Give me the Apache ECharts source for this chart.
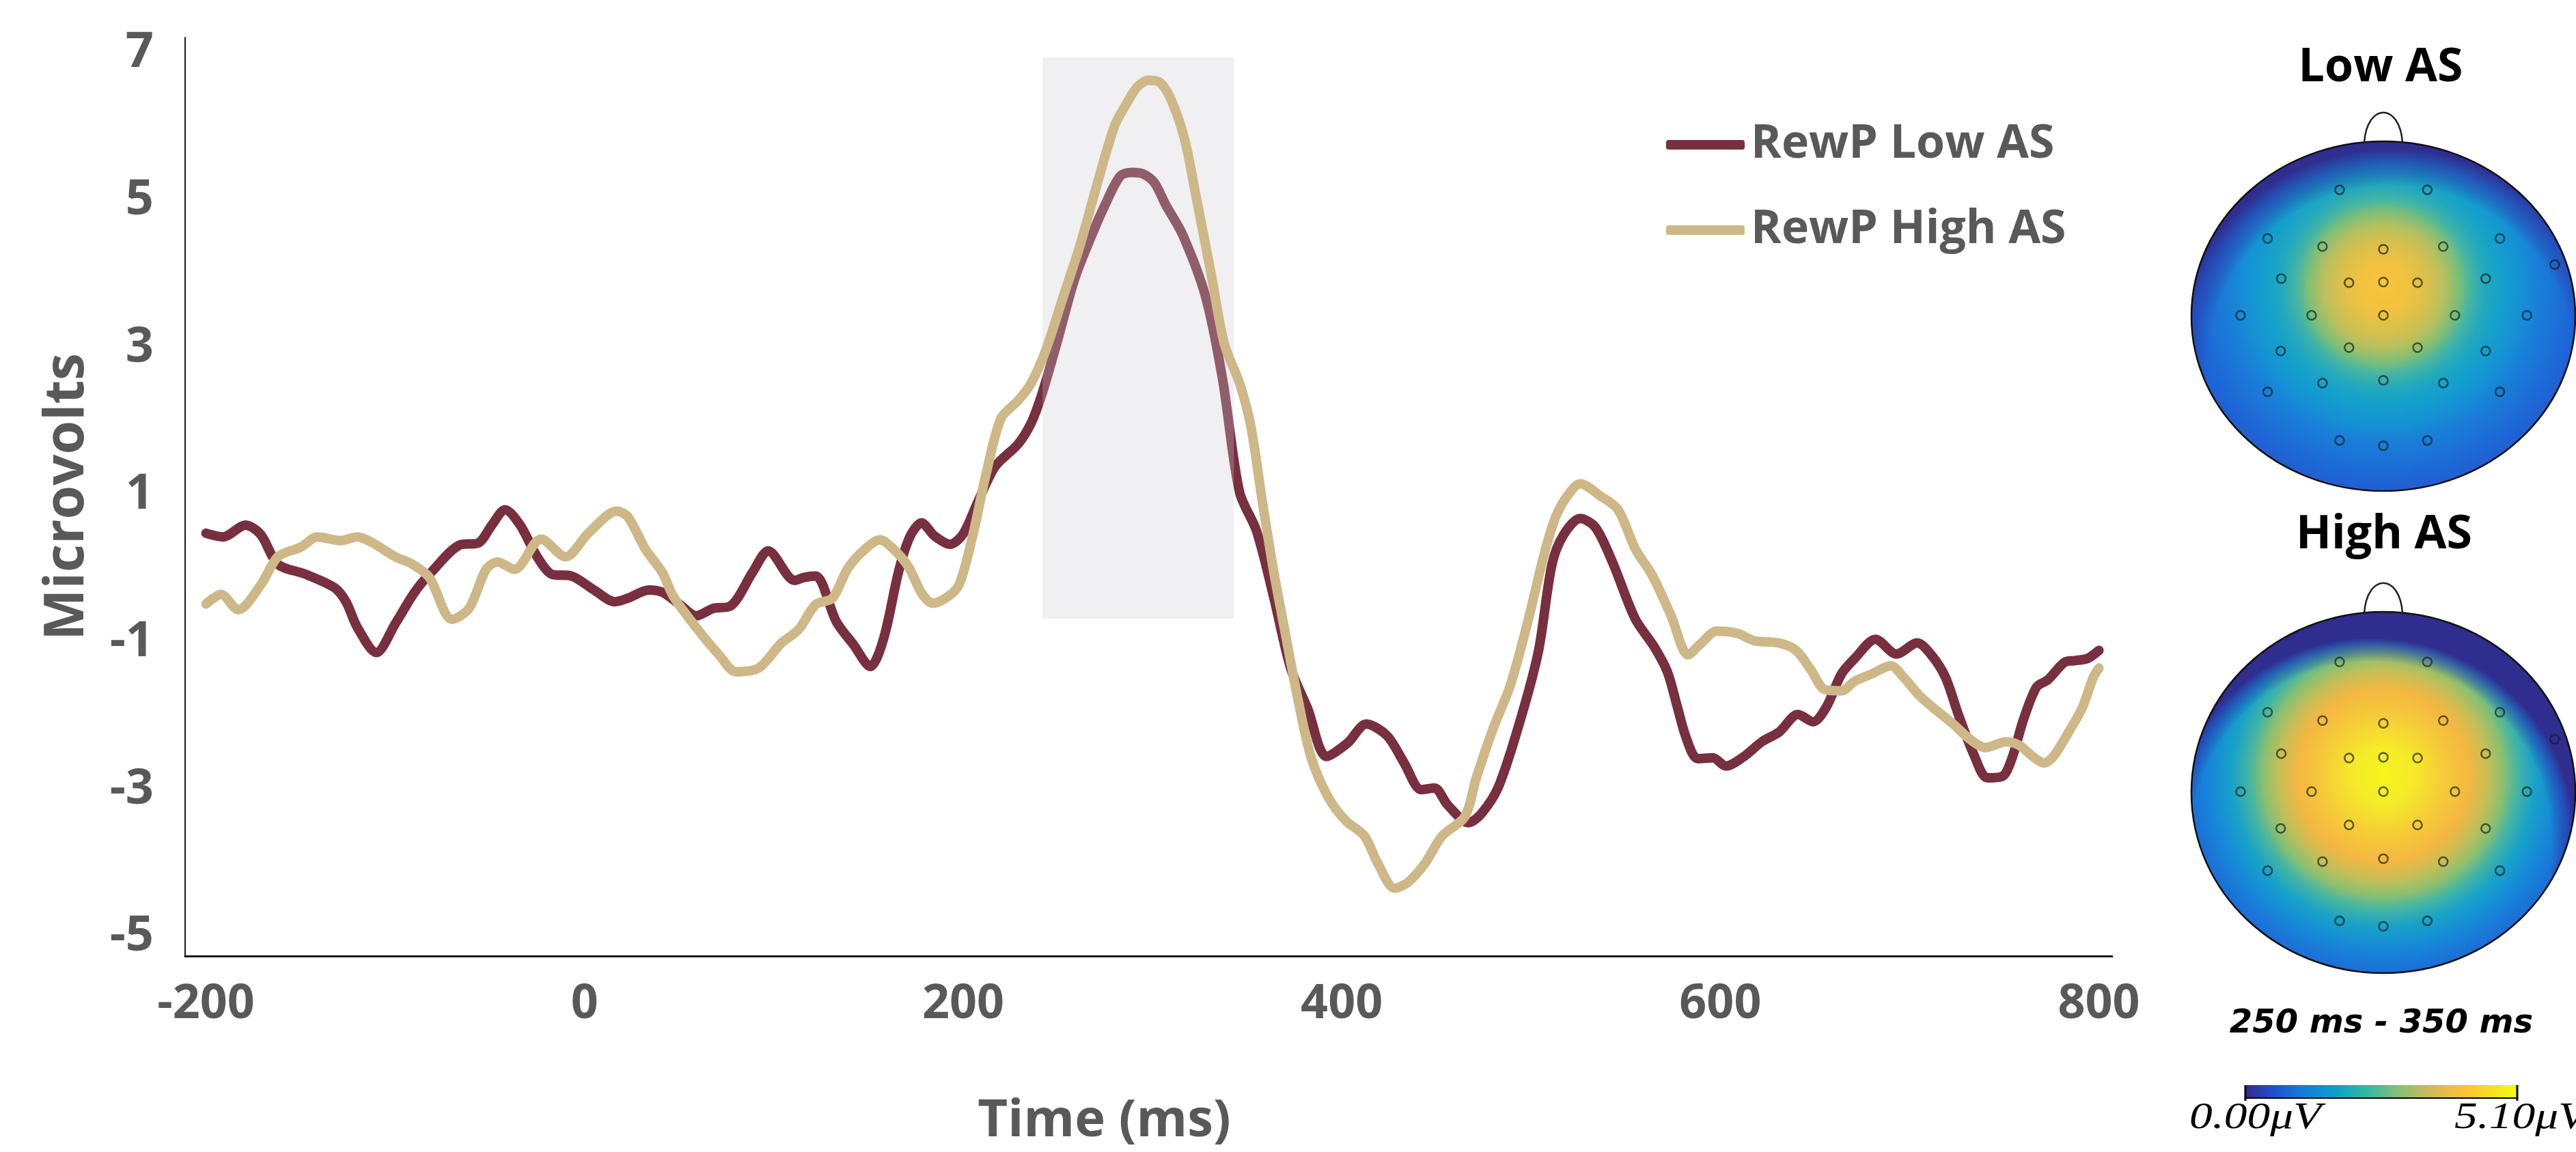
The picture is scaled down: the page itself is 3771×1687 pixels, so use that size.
<!DOCTYPE html>
<html lang="en">
<head>
    <meta charset="UTF-8">
    <title>RewP</title>
    <script src="https://cdn.jsdelivr.net/npm/echarts@6/dist/echarts.min.js"></script>
    <style>
        body { margin: 0; background: #fff; }
    </style>
</head>
<body>
<div id="chart" style="width: 3771px;height:1687px;"></div>
<script>
    // waveform values (ms, microvolts)
    let lowTime = [-200, -191, -179, -171, -162, -147, -132, -126, -120, -110, -100, -90, -81, -66, -56, -49, -42, -34, -25, -17, -7, 5, 16, 23, 34, 41, 50, 59, 68, 77, 89, 97, 111, 116, 122, 133, 142, 151, 158, 166, 172, 178, 185, 193, 200, 208, 217, 229, 236, 242, 250, 259, 268, 275, 283, 289, 295, 301, 307, 316, 328, 337, 346, 355, 364, 373, 382, 392, 403, 413, 424, 433, 442, 449, 456, 467, 474, 483, 495, 504, 511, 517, 526, 534, 543, 555, 565, 572, 577, 582, 588, 596, 603, 612, 622, 631, 641, 649, 656, 664, 671, 682, 693, 704, 712, 719, 726, 734, 741, 749, 754, 760, 767, 773, 782, 787, 794, 800];
    let lowValue = [0.48, 0.43, 0.59, 0.46, 0.06, -0.08, -0.26, -0.45, -0.80, -1.14, -0.75, -0.33, -0.05, 0.32, 0.35, 0.59, 0.80, 0.59, 0.16, -0.08, -0.10, -0.29, -0.45, -0.40, -0.29, -0.32, -0.48, -0.64, -0.54, -0.51, -0.04, 0.24, -0.16, -0.12, -0.10, -0.72, -1.03, -1.33, -0.95, -0.03, 0.44, 0.62, 0.44, 0.33, 0.47, 0.92, 1.39, 1.69, 1.98, 2.40, 3.11, 3.94, 4.53, 4.94, 5.33, 5.38, 5.36, 5.24, 4.94, 4.53, 3.70, 2.58, 1.04, 0.51, -0.38, -1.35, -1.90, -2.55, -2.37, -2.11, -2.27, -2.64, -3.00, -2.98, -3.21, -3.45, -3.32, -2.95, -2.00, -1.11, 0.05, 0.45, 0.68, 0.56, 0.09, -0.68, -1.06, -1.40, -1.85, -2.30, -2.58, -2.57, -2.68, -2.56, -2.35, -2.22, -1.98, -2.08, -1.88, -1.43, -1.22, -0.96, -1.16, -1.01, -1.19, -1.48, -2.00, -2.53, -2.84, -2.82, -2.58, -2.06, -1.61, -1.51, -1.27, -1.25, -1.22, -1.11];

    let highTime = [-200, -192, -183, -171, -162, -150, -141, -129, -120, -112, -100, -91, -82, -70, -61, -52, -46, -37, -23, -10, 2, 17, 23, 32, 41, 47, 59, 71, 80, 92, 104, 113, 122, 131, 139, 148, 156, 163, 171, 178, 184, 192, 198, 205, 212, 220, 229, 236, 244, 253, 262, 271, 280, 286, 292, 298, 304, 310, 317, 323, 331, 338, 346, 352, 358, 364, 370, 377, 384, 393, 402, 412, 419, 428, 435, 444, 453, 465, 471, 480, 489, 498, 507, 513, 519, 526, 537, 546, 555, 564, 574, 583, 590, 598, 609, 618, 631, 640, 648, 655, 664, 671, 680, 690, 697, 705, 712, 723, 732, 740, 751, 758, 765, 771, 776, 784, 791, 797, 800];
    let highValue = [-0.48, -0.35, -0.56, -0.22, 0.16, 0.29, 0.43, 0.38, 0.43, 0.35, 0.16, 0.06, -0.12, -0.69, -0.54, -0.01, 0.09, -0.01, 0.40, 0.16, 0.48, 0.78, 0.70, 0.27, -0.05, -0.38, -0.80, -1.17, -1.40, -1.35, -1.01, -0.83, -0.49, -0.40, 0.00, 0.26, 0.39, 0.27, 0.03, -0.33, -0.47, -0.38, -0.21, 0.44, 1.27, 2.04, 2.28, 2.52, 2.99, 3.70, 4.41, 5.24, 6.01, 6.30, 6.54, 6.63, 6.60, 6.36, 5.83, 5.06, 4.00, 3.05, 2.52, 1.93, 0.92, -0.03, -0.85, -1.79, -2.58, -3.11, -3.42, -3.63, -4.00, -4.34, -4.26, -4.00, -3.63, -3.37, -2.85, -2.17, -1.59, -0.75, 0.20, 0.70, 0.98, 1.15, 0.98, 0.80, 0.27, -0.09, -0.64, -1.17, -1.01, -0.85, -0.88, -0.98, -1.01, -1.11, -1.38, -1.64, -1.66, -1.53, -1.43, -1.32, -1.48, -1.72, -1.88, -2.11, -2.32, -2.43, -2.35, -2.40, -2.55, -2.64, -2.55, -2.22, -1.90, -1.48, -1.35];

    let seriesNames = ['RewP Low AS', 'RewP High AS'];
    let xTicks = [-200, 0, 200, 400, 600, 800];
    let yTicks = [-5, -3, -1, 1, 3, 5, 7];
    let windowMs = [242, 343];
    let windowUv = [-0.68, 6.94];

    // electrode layout, head-normalised (-1..1), same montage for both maps
    let electrodeX = [-0.228, 0.229, -0.603, -0.317, 0, 0.312, 0.607, 0.893, -0.532, -0.179, 0, 0.178, 0.533, -0.744, -0.374, 0, 0.373, 0.748, -0.535, -0.179, 0.178, 0.533, -0.603, -0.317, 0, 0.312, 0.607, -0.228, 0, 0.229];
    let electrodeY = [0.723, 0.723, 0.444, 0.398, 0.383, 0.398, 0.444, 0.295, 0.215, 0.191, 0.195, 0.191, 0.215, 0.005, 0.005, 0.005, 0.005, 0.005, -0.199, -0.180, -0.180, -0.199, -0.433, -0.383, -0.367, -0.383, -0.433, -0.711, -0.741, -0.711];
    let mapTitles = ['Low AS', 'High AS'];
    let mapWindow = '250 ms - 350 ms';
    let scaleLabels = ['0.00\u03bcV', '5.10\u03bcV'];

    function zip(a, b) {
        let out = [];
        for (let i = 0; i < a.length; i++) {
            out.push([a[i], b[i]]);
        }
        return out;
    }

    let gray = '#595959';
    let garnet = '#782F40';
    let gold = '#CEB888';
    let navy = 'rgba(47,45,142,1)';

    let headLow = {
        cy: -43, r: 340,
        stops: [
            {offset: 0, color: '#F8C53A'}, {offset: 0.1, color: '#F2C23E'}, {offset: 0.2, color: '#D6C04E'},
            {offset: 0.26, color: '#B8C05E'}, {offset: 0.325, color: '#7EBE78'}, {offset: 0.375, color: '#45B5A2'},
            {offset: 0.44, color: '#22A8BE'}, {offset: 0.51, color: '#14A0CC'}, {offset: 0.6, color: '#1690D6'},
            {offset: 0.675, color: '#1A7ED8'}, {offset: 0.825, color: '#1E66D6'}, {offset: 1, color: '#2A4EC4'}
        ],
        darkX: 12, darkY: 79,
        darkStops: [
            {offset: 0, color: 'rgba(47,45,142,0)'}, {offset: 0.643, color: 'rgba(47,45,142,0)'},
            {offset: 0.714, color: 'rgba(40,60,170,0.6)'}, {offset: 0.774, color: navy},
            {offset: 1, color: navy}
        ]
    };
    let headHigh = {
        cy: -25, r: 370,
        stops: [
            {offset: 0, color: '#F6F41E'}, {offset: 0.11, color: '#F5EC28'}, {offset: 0.24, color: '#F6CB39'},
            {offset: 0.34, color: '#F4B741'}, {offset: 0.41, color: '#C9BE55'}, {offset: 0.475, color: '#8BC070'},
            {offset: 0.53, color: '#45B5A2'}, {offset: 0.6, color: '#18A2C9'}, {offset: 0.69, color: '#1787D9'},
            {offset: 0.8, color: '#1E68D5'}, {offset: 1, color: '#2A4EC4'}
        ],
        darkX: -18, darkY: 73,
        darkStops: [
            {offset: 0, color: 'rgba(47,45,142,0)'}, {offset: 0.63, color: 'rgba(47,45,142,0)'},
            {offset: 0.68, color: 'rgba(40,55,170,0.6)'}, {offset: 0.714, color: navy},
            {offset: 1, color: navy}
        ]
    };

    function headItem(look) {
        return function (params, api) {
            let c = api.coord([0, 0]);
            let rx = api.coord([1, 0])[0] - c[0];
            let ry = c[1] - api.coord([0, 1])[1];
            let shape = {cx: 0, cy: 0, rx: rx, ry: ry};
            return {
                type: 'group',
                x: c[0],
                y: c[1],
                children: [
                    {type: 'ellipse', shape: shape, style: {fill: {type: 'radial', x: 0, y: look.cy, r: look.r, global: true, colorStops: look.stops}}},
                    {type: 'ellipse', shape: shape, style: {fill: {type: 'radial', x: look.darkX, y: look.darkY, r: 420, global: true, colorStops: look.darkStops}}},
                    {type: 'ellipse', shape: shape, style: {fill: 'none', stroke: '#111', lineWidth: 2.5}},
                    {
                        type: 'bezierCurve',
                        shape: {x1: -28, y1: -ry + 2, cpx1: -24, cpy1: -ry - 57, cpx2: 24, cpy2: -ry - 57, x2: 28, y2: -ry + 2},
                        style: {fill: 'none', stroke: '#222', lineWidth: 2.5}
                    }
                ]
            };
        };
    }

    let labelFont = {color: gray, fontWeight: 'bold', fontFamily: 'Open Sans'};
    let electrodes = zip(electrodeX, electrodeY);
    let parula = [
        {offset: 0, color: '#352A87'}, {offset: 0.1, color: '#1F4FD0'}, {offset: 0.2, color: '#1479D8'},
        {offset: 0.32, color: '#0C9DCC'}, {offset: 0.44, color: '#2EB7A4'}, {offset: 0.56, color: '#86BF77'},
        {offset: 0.68, color: '#D0BB59'}, {offset: 0.8, color: '#FBC236'}, {offset: 0.9, color: '#F5DE25'},
        {offset: 1, color: '#F9FB0E'}
    ];

    let chart = echarts.init(document.getElementById('chart'));

    let option = {
        animation: false,
        backgroundColor: '#ffffff',
        grid: [
            {left: 271, top: 55, width: 2821, height: 1345},
            {left: 3208, top: 207, width: 562, height: 512},
            {left: 3208, top: 896, width: 562, height: 529}
        ],
        xAxis: [
            {
                type: 'value', gridIndex: 0, min: -211, max: 807,
                axisLine: {show: true, onZero: false, lineStyle: {color: '#1a1a1a', width: 3}},
                axisTick: {show: false},
                splitLine: {show: false},
                axisLabel: Object.assign({customValues: xTicks, margin: 36, fontSize: 70}, labelFont),
                name: 'Time (ms)', nameLocation: 'middle', nameGap: 204,
                nameTextStyle: Object.assign({fontSize: 76, padding: [0, 130, 0, 0]}, labelFont)
            },
            {type: 'value', gridIndex: 1, min: -1, max: 1, show: false},
            {type: 'value', gridIndex: 2, min: -1, max: 1, show: false}
        ],
        yAxis: [
            {
                type: 'value', gridIndex: 0, min: -5.26, max: 7.21,
                axisLine: {show: true, onZero: false, lineStyle: {color: '#1a1a1a', width: 2}},
                axisTick: {show: false},
                splitLine: {show: false},
                axisLabel: Object.assign({customValues: yTicks, margin: 46, fontSize: 72}, labelFont),
                name: 'Microvolts', nameLocation: 'middle', nameGap: 132,
                nameTextStyle: Object.assign({fontSize: 80}, labelFont)
            },
            {type: 'value', gridIndex: 1, min: -1, max: 1, show: false},
            {type: 'value', gridIndex: 2, min: -1, max: 1, show: false}
        ],
        legend: {
            data: seriesNames,
            orient: 'vertical',
            left: 2434,
            top: 167,
            itemWidth: 115,
            itemHeight: 14,
            itemGap: 45,
            icon: 'roundRect',
            selectedMode: false,
            textStyle: Object.assign({fontSize: 68, lineHeight: 80, padding: [0, 0, 0, 4]}, labelFont)
        },
        series: [
            {
                name: seriesNames[0], type: 'line', z: 2,
                data: zip(lowTime, lowValue),
                showSymbol: false, smooth: 0.3,
                color: garnet,
                lineStyle: {color: garnet, width: 14, cap: 'round', join: 'round'}
            },
            {
                // grey analysis window, drawn over the low AS trace
                type: 'custom', z: 3, silent: true,
                data: [[windowMs[0], windowUv[0], windowMs[1], windowUv[1]]],
                renderItem: function (params, api) {
                    let p0 = api.coord([api.value(0), api.value(3)]);
                    let p1 = api.coord([api.value(2), api.value(1)]);
                    return {
                        type: 'rect',
                        shape: {x: p0[0], y: p0[1], width: p1[0] - p0[0], height: p1[1] - p0[1]},
                        style: {fill: 'rgba(205,202,207,0.3)'}
                    };
                }
            },
            {
                name: seriesNames[1], type: 'line', z: 4,
                data: zip(highTime, highValue),
                showSymbol: false, smooth: 0.3,
                color: gold,
                lineStyle: {color: gold, width: 14, cap: 'round', join: 'round'}
            },
            {
                type: 'custom', xAxisIndex: 1, yAxisIndex: 1, z: 2, silent: true, clip: false,
                data: [[0, 0]], renderItem: headItem(headLow)
            },
            {
                type: 'custom', xAxisIndex: 2, yAxisIndex: 2, z: 2, silent: true, clip: false,
                data: [[0, 0]], renderItem: headItem(headHigh)
            },
            {
                type: 'scatter', xAxisIndex: 1, yAxisIndex: 1, z: 5, silent: true,
                data: electrodes, symbol: 'circle', symbolSize: 13,
                itemStyle: {color: 'transparent', borderColor: 'rgba(20,30,30,0.85)', borderWidth: 2.5}
            },
            {
                type: 'scatter', xAxisIndex: 2, yAxisIndex: 2, z: 5, silent: true,
                data: electrodes, symbol: 'circle', symbolSize: 13,
                itemStyle: {color: 'transparent', borderColor: 'rgba(20,30,30,0.85)', borderWidth: 2.5}
            }
        ],
        graphic: [
            {type: 'text', x: 3485, y: 100, style: {text: mapTitles[0], font: 'bold 68px "Open Sans"', fill: '#000', align: 'center', verticalAlign: 'middle'}},
            {type: 'text', x: 3490, y: 784, style: {text: mapTitles[1], font: 'bold 68px "Open Sans"', fill: '#000', align: 'center', verticalAlign: 'middle'}},
            {type: 'text', x: 3486, y: 1500, style: {text: mapWindow, font: 'italic bold 48px "DejaVu Sans"', fill: '#000', align: 'center', verticalAlign: 'middle'}},
            {type: 'rect', shape: {x: 3287, y: 1589, width: 398, height: 19}, style: {fill: {type: 'linear', x: 0, y: 0, x2: 1, y2: 0, colorStops: parula}}},
            {type: 'line', shape: {x1: 3287, y1: 1608, x2: 3685, y2: 1608}, style: {stroke: '#000', lineWidth: 2}},
            {type: 'line', shape: {x1: 3287, y1: 1589, x2: 3287, y2: 1612}, style: {stroke: '#000', lineWidth: 3}},
            {type: 'line', shape: {x1: 3685, y1: 1589, x2: 3685, y2: 1612}, style: {stroke: '#000', lineWidth: 3}},
            {type: 'text', x: 3205, y: 1638, scaleX: 1.25, style: {text: scaleLabels[0], font: 'italic 54px "Liberation Serif"', fill: '#000', align: 'left', verticalAlign: 'middle'}},
            {type: 'text', x: 3593, y: 1638, scaleX: 1.25, style: {text: scaleLabels[1], font: 'italic 54px "Liberation Serif"', fill: '#000', align: 'left', verticalAlign: 'middle'}}
        ]
    };

    chart.setOption(option);
</script>
</body>
</html>
